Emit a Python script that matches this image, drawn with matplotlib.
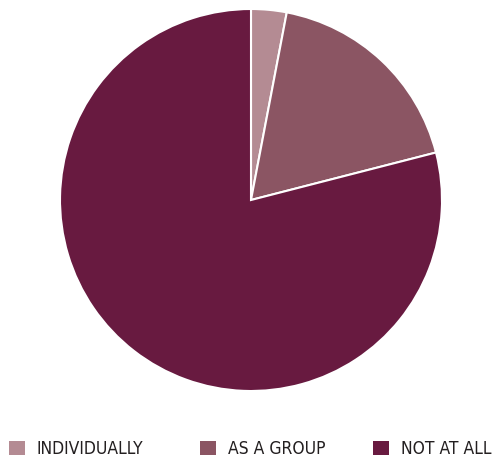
import matplotlib.pyplot as plt
from matplotlib.patches import Patch
from matplotlib.font_manager import FontProperties

# shares of respondents
labels = ['INDIVIDUALLY', 'AS A GROUP', 'NOT AT ALL']
values = [3, 18, 79]
colors = ['#b48b93', '#8b5563', '#681a40']

fig = plt.figure(figsize=(4.99, 4.66), dpi=100)
ax = fig.add_axes([60 / 499, 75 / 466, 382 / 499, 382 / 466])

ax.pie(values, colors=colors, startangle=90, counterclock=False, radius=1,
       wedgeprops=dict(edgecolor='white', linewidth=1.5))
ax.set_xlim(-1, 1)
ax.set_ylim(-1, 1)
ax.set_aspect('equal')

font = FontProperties(family='DejaVu Sans', stretch='condensed', size=12.5)
# one legend per entry so each can be placed where the reference has it
legend_x = [9, 200, 373]
for lab, col, x in zip(labels, colors, legend_x):
    leg = fig.legend([Patch(facecolor=col, edgecolor='none')], [lab],
                     loc='lower left', bbox_to_anchor=(x / 499, 8 / 466),
                     frameon=False, prop=font, handlelength=0.92, handleheight=0.92,
                     handletextpad=0.68, borderpad=0, borderaxespad=0,
                     labelcolor='#231f20')

fig.savefig('out.png', dpi=100)
